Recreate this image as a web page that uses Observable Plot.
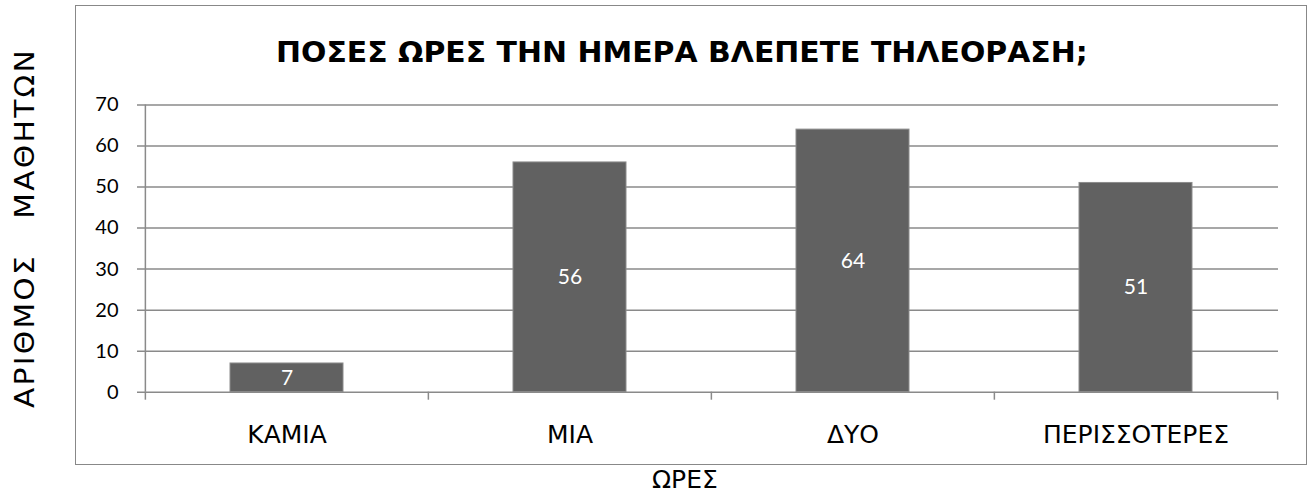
<!DOCTYPE html>
<html>
<head>
<meta charset="utf-8">
<script src="https://cdn.jsdelivr.net/npm/d3@7"></script>
<script src="https://cdn.jsdelivr.net/npm/@observablehq/plot@0.6"></script>
<style>
  html, body { margin: 0; padding: 0; background: white; }
  #wrap { position: relative; width: 1311px; height: 492px; overflow: hidden; background: white; }
  #border { position: absolute; left: 75px; top: 5px; width: 1230px; height: 458px; border: 1.5px solid #888; z-index: 2; pointer-events: none; }
  .lbl { position: absolute; white-space: pre; color: #000; font-family: "DejaVu Sans", sans-serif; z-index: 3; line-height: 1; }
  #title { font-weight: bold; font-size: 29px; }
  #ytitle { font-size: 26px; letter-spacing: 2px; }
  #xtitle { font-size: 25px; }
  #chart { position: absolute; left: 0; top: 0; z-index: 1; }
  #chart svg [aria-label^="x-axis"] text { font-family: "DejaVu Sans", sans-serif; font-size: 25px; fill: #000; }
  #chart svg [aria-label^="y-axis"] text { font-family: Lato, "Open Sans", sans-serif; font-size: 20px; fill: #000; }
</style>
</head>
<body>
<div id="wrap">
  <div id="chart"></div>
  <div id="border"></div>
  <div class="lbl" id="title">ΠΟΣΕΣ ΩΡΕΣ ΤΗΝ ΗΜΕΡΑ ΒΛΕΠΕΤΕ ΤΗΛΕΟΡΑΣΗ;</div>
  <div class="lbl" id="ytitle">ΑΡΙΘΜΟΣ   ΜΑΘΗΤΩΝ</div>
  <div class="lbl" id="xtitle">ΩΡΕΣ</div>
</div>
<script>
// ---- data ----
const categories = ["ΚΑΜΙΑ", "ΜΙΑ", "ΔΥΟ", "ΠΕΡΙΣΣΟΤΕΡΕΣ"];
const counts = [7, 56, 64, 51];
const yTicks = [0, 10, 20, 30, 40, 50, 60, 70];

const data = categories.map((c, i) => ({cat: c, value: counts[i]}));

const W = 1311, H = 492;
const mL = 145, mR = 33, mT = 104.5, mB = 100.3;
const step = (W - mL - mR) / categories.length;
const grid = "#8a8a8a";

const chart = Plot.plot({
  width: W,
  height: H,
  marginLeft: mL,
  marginRight: mR,
  marginTop: mT,
  marginBottom: mB,
  style: {background: "transparent", color: "#000", overflow: "visible"},
  x: {domain: categories, paddingInner: 0.6, paddingOuter: 0.3, tickSize: 0, tickPadding: 33, label: null},
  y: {domain: [0, 70], ticks: yTicks, tickSize: 0, tickPadding: 27, label: null, tickFormat: d => String(d)},
  marks: [
    Plot.ruleY(yTicks, {stroke: grid, strokeWidth: 1.5, insetLeft: -8}),
    Plot.ruleX([categories[0]], {dx: -step / 2, stroke: grid, strokeWidth: 1.5}),
    Plot.ruleX(categories, {dx: -step / 2, y1: 0, y2: 0, insetBottom: -8, stroke: grid, strokeWidth: 1.5}),
    Plot.ruleX([categories[categories.length - 1]], {dx: step / 2, y1: 0, y2: 0, insetBottom: -8, stroke: grid, strokeWidth: 1.5}),
    Plot.barY(data, {x: "cat", y: "value", fill: "#616161", stroke: "#8c8c8c", strokeWidth: 1}),
    Plot.text(data, Plot.stackY({x: "cat", y: "value", text: d => String(d.value), fill: "white", fontSize: 21, fontFamily: "Lato, 'Open Sans', sans-serif"}))
  ]
});
document.getElementById("chart").appendChild(chart);

// place and fit HTML labels
function place(id, cx, cy, targetW, rotate) {
  const el = document.getElementById(id);
  const w = el.offsetWidth, h = el.offsetHeight;
  const s = targetW ? targetW / w : 1;
  el.style.left = (cx - w / 2) + "px";
  el.style.top = (cy - h / 2) + "px";
  el.style.transformOrigin = "50% 50%";
  el.style.transform = (rotate ? "rotate(-90deg) " : "") + "scaleX(" + s + ")";
}
place("title", 682, 52, 812, false);
place("ytitle", 24, 228, 360, true);
place("xtitle", 685, 479, null, false);
</script>
</body>
</html>
